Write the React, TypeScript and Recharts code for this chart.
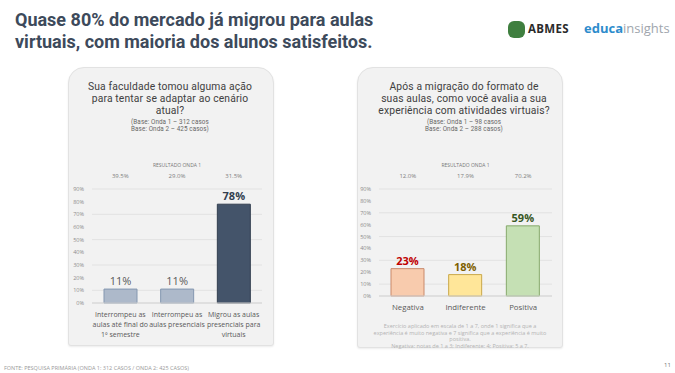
import { BarChart, Bar, XAxis, YAxis, CartesianGrid, Cell, LabelList } from "recharts";

const leftCategories = [
  "Interrompeu as\naulas até final do\n1º semestre",
  "Interrompeu as\naulas presenciais",
  "Migrou as aulas\npresenciais para\nvirtuais",
];
const leftValues = [11, 11, 78];
const leftOnda1 = ["39.5%", "29.0%", "31.5%"];

const rightCategories = ["Negativa", "Indiferente", "Positiva"];
const rightValues = [23, 18, 59];
const rightOnda1 = ["12.0%", "17.9%", "70.2%"];

const yTicks = [0, 10, 20, 30, 40, 50, 60, 70, 80, 90];

// colours per bar
const leftFill = ["#adb9ca", "#adb9ca", "#44546a"];
const leftStroke = ["#8497b0", "#8497b0", "#333f50"];
const leftLabel = ["#595959", "#595959", "#333f50"];
const rightFill = ["#f8cbad", "#ffe699", "#c5e0b4"];
const rightStroke = ["#c9896a", "#c9a84a", "#86a96c"];
const rightLabel = ["#c00000", "#7f6000", "#375623"];

const FONT = "'Open Sans', 'Noto Sans', sans-serif";
const HEAD = "Roboto, 'Open Sans', sans-serif";

const leftData = leftCategories.map((c, i) => ({ cat: c, value: leftValues[i], onda1: leftOnda1[i] }));
const rightData = rightCategories.map((c, i) => ({ cat: c, value: rightValues[i], onda1: rightOnda1[i] }));

function MultiTick(props: any) {
  const { x, y, payload, fontSize, lineGap } = props;
  const lines = String(payload.value).split("\n");
  return (
    <text x={x} y={y} textAnchor="middle" fill="#595959" fontSize={fontSize} fontFamily={FONT}>
      {lines.map((l, i) => (
        <tspan key={i} x={x} dy={i === 0 ? "0.8em" : lineGap}>
          {l}
        </tspan>
      ))}
    </text>
  );
}

function makeLabel(colors: string[], bold: boolean[]) {
  return (props: any) => {
    const { x, y, width, value, index } = props;
    const i = index ?? 0;
    return (
      <text
        x={x + width / 2}
        y={y - 4}
        textAnchor="middle"
        fill={colors[i]}
        fontSize={11}
        fontWeight={bold[i] ? 700 : 400}
        fontFamily={FONT}
      >
        {value}%
      </text>
    );
  };
}

function Panel({ left, width, height }: { left: number; width: number; height: number }) {
  return (
    <div
      style={{
        position: "absolute",
        left,
        top: 67,
        width,
        height,
        background: "#f2f2f2",
        border: "1px solid #e2e2e2",
        borderRadius: "16px 16px 3px 3px",
        boxShadow: "0 1px 2px rgba(0,0,0,0.08)",
      }}
    />
  );
}

function Chart({ data, left, width, height, yWidth, xHeight, xFont, lineGap, fills, strokes, label }: any) {
  return (
    <div style={{ position: "absolute", left, top: 150 }}>
      <BarChart width={width} height={height} data={data} margin={{ top: 9, right: 8, left: 0, bottom: 0 }}>
        <CartesianGrid vertical={false} stroke="#e2e2e2" />
        <XAxis
          dataKey="cat"
          interval={0}
          axisLine={{ stroke: "#d4d4d4" }}
          tickLine={false}
          height={xHeight}
          tick={<MultiTick fontSize={xFont} lineGap={lineGap} />}
        />
        <XAxis
          xAxisId="top"
          orientation="top"
          dataKey="onda1"
          interval={0}
          axisLine={false}
          tickLine={false}
          tickMargin={5}
          height={30}
          tick={{ fontSize: 6, fill: "#7f7f7f", fontFamily: FONT }}
        />
        <YAxis
          domain={[0, 90]}
          ticks={yTicks}
          width={yWidth}
          axisLine={false}
          tickLine={false}
          tickFormatter={(v: number) => `${v}%`}
          tick={{ fontSize: 5.5, fill: "#8c8c8c", fontFamily: FONT }}
        />
        <Bar dataKey="value" barSize={33} isAnimationActive={false}>
          {data.map((_: any, i: number) => (
            <Cell key={i} fill={fills[i]} stroke={strokes[i]} strokeWidth={1} />
          ))}
          <LabelList dataKey="value" content={label} />
        </Bar>
      </BarChart>
    </div>
  );
}

const question = {
  fontFamily: HEAD,
  fontSize: 10.3,
  lineHeight: "12.2px",
  letterSpacing: 0.15,
  color: "#404040",
  textAlign: "center" as const,
};
const small = {
  fontFamily: HEAD,
  fontSize: 6.3,
  lineHeight: "7.4px",
  letterSpacing: 0.1,
  color: "#666",
  textAlign: "center" as const,
};

export default function App() {
  return (
    <div
      style={{
        position: "absolute",
        left: 0,
        top: 0,
        width: 675,
        height: 373,
        background: "#ffffff",
        fontFamily: FONT,
        overflow: "hidden",
      }}
    >
      <div
        style={{
          position: "absolute",
          left: 15,
          top: 9,
          fontFamily: HEAD,
          fontSize: 18,
          lineHeight: "21.5px",
          fontWeight: 700,
          color: "#3d4a5b",
          whiteSpace: "nowrap",
        }}
      >
        Quase 80% do mercado já migrou para aulas
        <br />
        virtuais, com maioria dos alunos satisfeitos.
      </div>

      {/* logos */}
      <div style={{ position: "absolute", left: 508, top: 21, width: 17, height: 17, borderRadius: 6, background: "#3f7f3f" }} />
      <div style={{ position: "absolute", left: 528, top: 21, fontSize: 11.5, fontWeight: 700, color: "#2b2b2b", letterSpacing: 0.3 }}>
        ABMES
      </div>
      <div style={{ position: "absolute", left: 584, top: 19, fontSize: 13, color: "#a0a6ad" }}>
        <span style={{ color: "#2d8ccc", fontWeight: 700 }}>educa</span>insights
      </div>

      <Panel left={68} width={204} height={277} />
      <Panel left={357} width={204} height={279} />

      {/* left panel texts */}
      <div style={{ position: "absolute", left: 68, width: 204, top: 80.5, ...question }}>
        Sua faculdade tomou alguma ação
        <br />
        para tentar se adaptar ao cenário
        <br />
        atual?
      </div>
      <div style={{ position: "absolute", left: 68, width: 204, top: 118.5, ...small }}>
        (Base: Onda 1 – 312 casos
        <br />
        Base: Onda 2 – 425 casos)
      </div>
      <div style={{ position: "absolute", left: 92, width: 170, top: 162, textAlign: "center", fontSize: 5, color: "#777" }}>
        RESULTADO ONDA 1
      </div>

      {/* right panel texts */}
      <div style={{ position: "absolute", left: 362, width: 204, top: 80.5, ...question }}>
        Após a migração do formato de
        <br />
        suas aulas, como você avalia a sua
        <br />
        experiência com atividades virtuais?
      </div>
      <div style={{ position: "absolute", left: 362, width: 204, top: 118.5, ...small }}>
        (Base: Onda 1 – 98 casos
        <br />
        Base: Onda 2 – 288 casos)
      </div>
      <div style={{ position: "absolute", left: 379, width: 173, top: 162, textAlign: "center", fontSize: 5, color: "#777" }}>
        RESULTADO ONDA 1
      </div>

      <Chart
        data={leftData}
        left={60}
        width={210}
        height={195}
        yWidth={32}
        xHeight={42}
        xFont={7}
        lineGap={10}
        fills={leftFill}
        strokes={leftStroke}
        label={makeLabel(leftLabel, [false, false, true])}
      />
      <Chart
        data={rightData}
        left={345}
        width={215}
        height={166}
        yWidth={34}
        xHeight={20}
        xFont={7.8}
        lineGap={10}
        fills={rightFill}
        strokes={rightStroke}
        label={makeLabel(rightLabel, [true, true, true])}
      />

      <div
        style={{
          position: "absolute",
          left: 360,
          width: 200,
          top: 323,
          textAlign: "center",
          fontSize: 5.5,
          lineHeight: "6.5px",
          color: "#b3b3b3",
          whiteSpace: "nowrap",
        }}
      >
        Exercício aplicado em escala de 1 a 7, onde 1 significa que a
        <br />
        experiência é muito negativa e 7 significa que a experiência é muito
        <br />
        positiva.
        <br />
        Negativa: notas de 1 a 3; Indiferente: 4; Positiva: 5 a 7.
      </div>

      <div style={{ position: "absolute", left: 4, top: 364, fontSize: 5.5, color: "#9a9a9a" }}>
        FONTE: PESQUISA PRIMÁRIA (ONDA 1: 312 CASOS / ONDA 2: 425 CASOS)
      </div>
      <div style={{ position: "absolute", left: 664, top: 361, fontSize: 6, color: "#777" }}>11</div>
    </div>
  );
}
